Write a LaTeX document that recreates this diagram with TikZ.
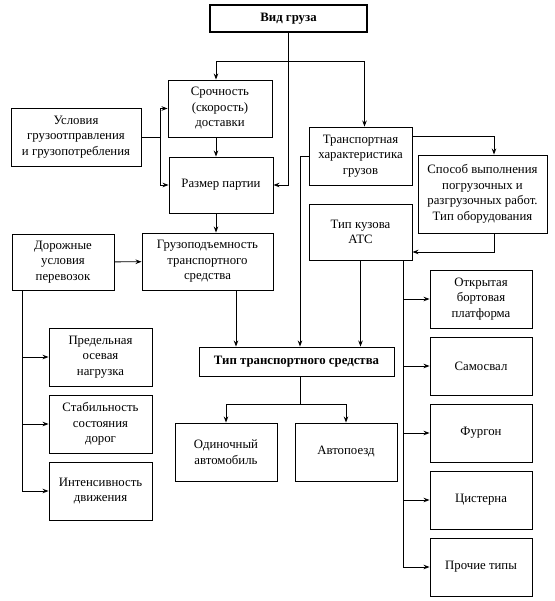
\documentclass[tikz,border=0pt]{standalone}
\usepackage{fontspec}
\setmainfont{Liberation Serif}
\usetikzlibrary{arrows.meta,positioning}
\tikzset{
  blk/.style={draw, line width=0.9pt, align=center, inner sep=2pt,
    minimum width=103pt, minimum height=58pt,
    font=\fontsize{12.8}{15.5}\selectfont},
  head/.style={blk, line width=2.4pt, minimum width=157pt, minimum height=27pt,
    font=\bfseries\fontsize{12.8}{15.5}\selectfont},
  link/.style={line width=0.9pt}
}

\begin{document}
\begin{tikzpicture}[x=1pt,y=-1pt,node distance=67pt,on grid,>={Stealth[length=6pt,width=4.5pt]}]
   \useasboundingbox (0,0) rectangle (554,601);
   % upper part
   \node[head] (vid) at (288.5,18.5) {Вид груза};
   \node[blk,minimum width=104pt,minimum height=57pt] (srok) at (220,108.5) {Срочность\\(скорость)\\доставки};
   \node[blk,minimum width=104pt,minimum height=56pt] (razmer) at (221,185) {Размер партии};
   \node[blk,minimum width=130pt] (uslov) at (76,137) {Условия\\грузоотправления\\и грузопотребления};
   \node[blk,minimum width=131pt,minimum height=57pt] (gruzop) at (207.5,261.5) {Грузоподъемность\\транспортного\\средства};
   \node[blk,minimum width=102pt,minimum height=56pt] (dorozh) at (63,262) {Дорожные\\условия\\перевозок};
   \node[blk] (transp) at (360.5,156) {Транспортная\\характеристика\\грузов};
   \node[blk,minimum width=129pt,minimum height=78pt] (sposob) at (482.5,194) {Способ выполнения\\погрузочных и\\разгрузочных работ.\\Тип оборудования};
   \node[blk,minimum height=56pt] (kuzov) at (360.5,232) {Тип кузова\\АТС};
   \node[head,line width=0.9pt,minimum width=195pt,minimum height=29pt] (tiptr) at (296.5,361.5) {Тип транспортного средства};
   % left column
   \node[blk] (predel) at (100.5,357) {Предельная\\осевая\\нагрузка};
   \node[blk] (stabil) [below=of predel] {Стабильность\\состояния\\дорог};
   \node[blk] (intens) [below=of stabil] {Интенсивность\\движения};
   % bottom
   \node[blk,minimum width=102pt] (odin) at (226,452) {Одиночный\\автомобиль};
   \node[blk,minimum width=102pt] (avto) [right=120pt of odin] {Автопоезд};
   % right column
   \node[blk,minimum width=102pt] (otkr) at (481,299) {Открытая\\бортовая\\платформа};
   \node[blk,minimum width=102pt] (samos) [below=of otkr] {Самосвал};
   \node[blk,minimum width=102pt] (furg) [below=of samos] {Фургон};
   \node[blk,minimum width=102pt] (cist) [below=of furg] {Цистерна};
   \node[blk,minimum width=102pt] (proch) [below=of cist] {Прочие типы};

   \coordinate (ax) at (216,0);
   \coordinate (top) at (288.5,61);
   \coordinate (us) at (160,137);
   \coordinate (dl) at (22,290);
   \coordinate (gx) at (236,0);
   \coordinate (tx) at (300,0);
   \coordinate (sx) at (494,0);
   \coordinate (kb) at (403,260);
   \coordinate (split) at (300,404);

   \draw[link,->] (vid.south) |- (razmer.east);
   \draw[link,->] (top) -| (srok.north -| ax);
   \draw[link,->] (top) -| ([xshift=4pt]transp.north);
   \draw[link,->] (srok.south -| ax) -- (razmer.north -| ax);
   \draw[link] (uslov.east) -- (us);
   \draw[link,->] (us) |- (srok.west);
   \draw[link,->] (us) |- (razmer.west);
   \draw[link,->] (razmer.south -| ax) -- (gruzop.north -| ax);
   \draw[link,->] (dorozh) -- (gruzop);
   \draw[link,->] (dl) |- (predel.west);
   \draw[link,->] (dl) |- (stabil.west);
   \draw[link,->] (dl) |- (intens.west);
   \draw[link,->] (gruzop.south -| gx) -- (tiptr.north -| gx);
   \draw[link,->] (transp.west) -| (tiptr.north -| tx);
   \draw[link,->] ([yshift=20pt]transp.east) -| (sposob.north -| sx);
   \draw[link,->] (sposob.south -| sx) |- ([yshift=-20pt]kuzov.east);
   \draw[link,->] (kuzov.south) -- (kuzov.south |- tiptr.north);
   \draw[link,->] (kb) |- (otkr.west);
   \draw[link,->] (kb) |- (samos.west);
   \draw[link,->] (kb) |- (furg.west);
   \draw[link,->] (kb) |- (cist.west);
   \draw[link,->] (kb) |- (proch.west);
   \draw[link] (tiptr.south -| tx) -- (split);
   \draw[link,->] (split) -| (odin.north);
   \draw[link,->] (split) -| (avto.north);
\end{tikzpicture}
\end{document}
